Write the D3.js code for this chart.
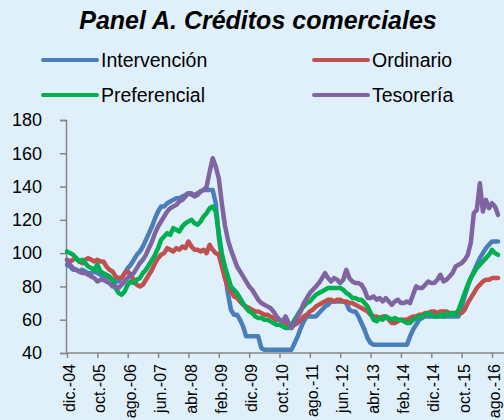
<!DOCTYPE html>
<html>
<head>
<meta charset="utf-8">
<script src="https://cdn.jsdelivr.net/npm/d3@7"></script>
<style>
  body { margin: 0; background: #e0f0fa; }
  svg { display: block; }
  text { font-family: "Liberation Sans", Arial, sans-serif; fill: #000; }
</style>
</head>
<body>
<div id="chart"></div>
<script>
// Monthly series, dic-04 .. oct-16
var intervencion = [93, 92, 90, 90, 89, 90, 89, 88, 88, 89, 88, 87, 86, 86, 85, 84, 83, 83, 85, 88,
	91, 93, 96, 99, 101, 104, 108, 112, 116, 121, 125, 128, 128, 130, 131, 132, 133, 133, 134, 135,
	136, 135, 135, 136, 137, 138, 138, 138, 138, 130, 110, 96, 88, 76, 66, 63, 63, 60, 56, 50,
	50, 50, 50, 50, 43, 42, 42, 42, 42, 42, 42, 42, 42, 42, 42, 46, 50, 55, 59, 62,
	62, 62, 62, 64, 66, 68, 69, 71, 71, 71, 71, 71, 70, 66, 65, 65, 62, 58, 54, 49,
	46, 45, 45, 45, 45, 45, 45, 45, 45, 45, 45, 45, 45, 50, 54, 57, 60, 61, 62, 62,
	62, 62, 62, 62, 62, 62, 62, 62, 62, 62, 68, 74, 80, 85, 89, 93, 97, 100, 103, 105,
	107, 107, 107];
var ordinario = [96, 95, 96, 97, 95, 94, 96, 97, 96, 95, 96, 95, 95, 92, 90, 89, 86, 85, 85, 88,
	89, 87, 84, 81, 80, 81, 84, 87, 90, 94, 97, 99, 100, 103, 102, 101, 103, 102, 104, 103,
	107, 104, 102, 102, 101, 102, 100, 105, 102, 100, 99, 92, 85, 80, 77, 74, 73, 71, 69, 68,
	67, 66, 65, 65, 64, 63, 63, 62, 61, 60, 60, 59, 58, 57, 56, 57, 58, 60, 62, 63,
	65, 66, 68, 69, 70, 71, 72, 72, 71, 72, 72, 71, 71, 70, 70, 69, 68, 67, 66, 65,
	63, 62, 62, 61, 62, 62, 60, 58, 58, 59, 60, 60, 60, 61, 62, 62, 63, 63, 64, 64,
	65, 65, 64, 65, 65, 65, 64, 64, 64, 64, 64, 66, 70, 73, 76, 79, 81, 83, 84, 84,
	85, 85, 85];
var preferencial = [101, 100, 99, 97, 95, 96, 94, 92, 91, 90, 93, 89, 88, 87, 86, 84, 79, 76, 75, 77,
	81, 83, 82, 84, 85, 88, 90, 93, 96, 99, 103, 108, 110, 112, 111, 115, 114, 113, 116, 118,
	119, 120, 118, 117, 119, 122, 124, 127, 128, 125, 112, 100, 92, 86, 80, 78, 76, 73, 70, 67,
	65, 64, 62, 61, 61, 60, 60, 59, 58, 57, 57, 56, 55, 55, 57, 60, 63, 66, 68, 70,
	71, 73, 75, 76, 77, 78, 79, 79, 79, 79, 79, 78, 76, 75, 73, 73, 72, 72, 70, 68,
	64, 60, 59, 61, 60, 62, 61, 60, 61, 60, 60, 59, 58, 58, 60, 61, 62, 62, 63, 64,
	63, 62, 62, 63, 62, 64, 63, 64, 63, 66, 71, 76, 81, 85, 88, 91, 93, 95, 97, 99,
	102, 100, 99];
var tesoreria = [96, 93, 91, 90, 89, 88, 88, 87, 86, 85, 83, 84, 84, 83, 82, 80, 80, 79, 81, 83,
	85, 87, 88, 91, 94, 96, 99, 103, 107, 112, 116, 119, 122, 125, 127, 128, 129, 131, 132, 134,
	136, 136, 134, 135, 137, 138, 140, 149, 157, 152, 145, 130, 117, 108, 102, 97, 92, 89, 86, 83,
	80, 78, 75, 72, 70, 69, 68, 67, 65, 62, 60, 59, 62, 58, 55, 58, 62, 65, 70, 73,
	76, 78, 80, 82, 85, 88, 85, 83, 85, 84, 82, 84, 90, 85, 83, 82, 82, 81, 78, 73,
	73, 74, 72, 73, 71, 73, 71, 69, 71, 72, 70, 70, 71, 70, 75, 80, 79, 79, 81, 83,
	82, 82, 84, 87, 83, 84, 86, 88, 92, 93, 94, 96, 99, 106, 124, 126, 142, 125, 132, 127,
	130, 128, 123];

var seriesNames = ['Intervención', 'Ordinario', 'Preferencial', 'Tesorería'];
var seriesColors = ['#4a7ebb', '#c0504d', '#00b050', '#8064a2'];
var tickLabels = ['dic.-04', 'oct.-05', 'ago.-06', 'jun.-07', 'abr.-08', 'feb.-09', 'dic.-09',
	'oct.-10', 'ago.-11', 'jun.-12', 'abr.-13', 'feb.-14', 'dic.-14', 'oct.-15', 'ago.-16'];
var yTicks = [40, 60, 80, 100, 120, 140, 160, 180];

var width = 504, height = 420;

var svg = d3.select('#chart').append('svg')
	.attr('width', width)
	.attr('height', height);

//Title
svg.append('text')
	.attr('x', 258)
	.attr('y', 29)
	.attr('text-anchor', 'middle')
	.style('font-size', '25px')
	.style('font-weight', 'bold')
	.style('font-style', 'italic')
	.text('Panel A. Créditos comerciales');

//Scales
var x = d3.scaleLinear().domain([0, 140]).range([67, 492]);
var y = d3.scaleLinear().domain([40, 180]).range([353, 120]);

//Y axis
var yAxis = svg.append('g')
	.attr('transform', 'translate(66,0)')
	.call(d3.axisLeft(y).tickValues(yTicks).tickSize(6).tickPadding(18));
yAxis.selectAll('text').style('font-size', '18px').attr('font-family', null);
yAxis.selectAll('line, path').attr('stroke', '#868686').attr('stroke-width', 1.5);

//X axis
var xAxis = svg.append('g')
	.attr('transform', 'translate(0,353)')
	.call(d3.axisBottom(x)
		.tickValues(d3.range(0, 141, 10))
		.tickFormat(function(d, i) { return tickLabels[i]; })
		.tickSize(5)
		.tickSizeOuter(0));
xAxis.select('.domain').attr('d', 'M66,0H504');
xAxis.selectAll('line, path').attr('stroke', '#868686').attr('stroke-width', 1.5);
xAxis.selectAll('text')
	.attr('font-family', null)
	.style('font-size', '16px')
	.attr('text-anchor', 'end')
	.attr('dy', '0.35em')
	.attr('transform', 'rotate(-90)')
	.attr('x', -11)
	.attr('y', 2);

//Lines
var allSeries = [intervencion, ordinario, preferencial, tesoreria];
var line = d3.line()
	.x(function(d, i) { return x(i); })
	.y(function(d) { return y(d); });

// draw order: blue, red, green, purple on top
[0, 1, 2, 3].forEach(function(k) {
	svg.append('path')
		.datum(allSeries[k])
		.attr('fill', 'none')
		.attr('stroke', seriesColors[k])
		.attr('stroke-width', 4.5)
		.attr('stroke-linejoin', 'round')
		.attr('stroke-linecap', 'round')
		.attr('d', line);
});

//Legend
var legendPos = [[43, 60], [314, 60], [43, 95], [314, 95]];
legendPos.forEach(function(p, k) {
	var g = svg.append('g').attr('transform', 'translate(' + p[0] + ',' + p[1] + ')');
	g.append('line')
		.attr('x1', 0).attr('x2', 54)
		.attr('y1', 0).attr('y2', 0)
		.attr('stroke', seriesColors[k])
		.attr('stroke-width', 4)
		.attr('stroke-linecap', 'round');
	g.append('text')
		.attr('x', 58)
		.attr('y', 0)
		.attr('dy', '0.35em')
		.style('font-size', '19.5px')
		.text(seriesNames[k]);
});
</script>
</body>
</html>
